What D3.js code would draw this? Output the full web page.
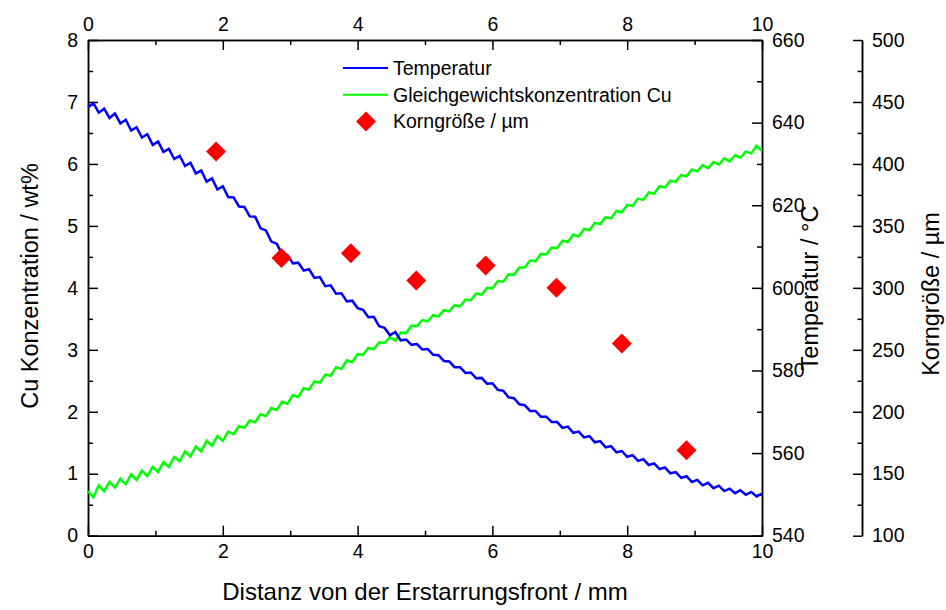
<!DOCTYPE html>
<html>
<head>
<meta charset="utf-8">
<script src="https://cdn.jsdelivr.net/npm/d3@7"></script>
<style>
  body { margin: 0; background: #fff; }
  text { font-family: "Liberation Sans", Arial, sans-serif; fill: #000; }
  .domain, .tick line { stroke: #000; stroke-width: 1.5px; }
</style>
</head>
<body>
<svg id="chart" width="946" height="610"></svg>
<script>
// sampling grid of the two simulated curves (mm)
var distanz = d3.range(126).map(function(i) { return +(i * 0.08).toFixed(2); });

// Temperatur / °C
var temperatur = [
  643.7, 644.7, 642.4, 643.4, 641.1, 642.2, 639.8, 640.7, 638.1, 638.9,
  636.4, 637.2, 634.6, 635.4, 632.9, 633.7, 631.2, 632.0, 629.5, 630.3,
  627.7, 628.4, 625.7, 626.5, 623.8, 624.6, 622.0, 621.9, 619.7, 619.6,
  617.3, 617.2, 614.4, 613.9, 611.2, 610.7, 608.1, 607.9, 605.9, 606.1,
  604.2, 604.5, 602.4, 602.6, 600.4, 600.6, 598.6, 598.7, 596.7, 596.9,
  595.1, 594.7, 592.9, 593.0, 590.7, 590.3, 588.5, 589.3, 587.3, 587.5,
  586.2, 586.4, 585.1, 585.2, 583.8, 583.7, 582.3, 582.2, 580.8, 580.8,
  579.4, 579.5, 578.1, 578.2, 576.8, 576.9, 575.3, 575.1, 573.5, 573.3,
  571.8, 571.6, 570.2, 570.2, 568.8, 568.8, 567.5, 567.5, 566.1, 566.4,
  564.9, 565.2, 563.8, 564.1, 562.6, 562.9, 561.4, 561.7, 560.2, 560.5,
  559.1, 559.5, 558.1, 558.5, 557.1, 557.5, 556.1, 556.5, 555.1, 555.4,
  554.0, 554.4, 553.0, 553.5, 552.2, 552.8, 551.5, 552.1, 550.8, 551.4,
  550.3, 551.0, 549.9, 550.6, 549.5, 550.2
];

// Gleichgewichtskonzentration Cu / wt%
var konzentration = [
  0.72, 0.62, 0.81, 0.72, 0.87, 0.78, 0.92, 0.83, 0.99, 0.90,
  1.05, 0.96, 1.11, 1.03, 1.19, 1.11, 1.27, 1.20, 1.36, 1.28,
  1.44, 1.36, 1.53, 1.45, 1.61, 1.53, 1.68, 1.64, 1.77, 1.74,
  1.86, 1.83, 1.96, 1.93, 2.06, 2.03, 2.16, 2.13, 2.27, 2.24,
  2.38, 2.36, 2.49, 2.47, 2.60, 2.58, 2.72, 2.69, 2.83, 2.80,
  2.93, 2.92, 3.03, 3.01, 3.12, 3.11, 3.20, 3.15, 3.28, 3.27,
  3.39, 3.38, 3.48, 3.46, 3.56, 3.54, 3.64, 3.62, 3.72, 3.70,
  3.81, 3.80, 3.91, 3.89, 4.00, 3.99, 4.11, 4.10, 4.22, 4.21,
  4.33, 4.33, 4.44, 4.43, 4.55, 4.54, 4.65, 4.64, 4.76, 4.74,
  4.86, 4.83, 4.95, 4.93, 5.05, 5.03, 5.14, 5.12, 5.24, 5.22,
  5.34, 5.32, 5.44, 5.42, 5.54, 5.52, 5.64, 5.62, 5.73, 5.71,
  5.82, 5.80, 5.91, 5.88, 5.98, 5.93, 6.03, 5.99, 6.09, 6.04,
  6.14, 6.10, 6.20, 6.17, 6.29, 6.21
];

// Korngröße / µm
var kornDistanz = [1.9, 2.87, 3.9, 4.87, 5.9, 6.95, 7.92, 8.88];
var korngroesse = [410, 324, 328, 306, 318, 300, 255, 169];

var legendLabels = ["Temperatur", "Gleichgewichtskonzentration Cu", "Korngröße / µm"];

var svg = d3.select("#chart");
var plotLeft = 88, plotRight = 762, plotTop = 40, plotBottom = 535.7, farRight = 862;

var x = d3.scaleLinear().domain([0, 10]).range([plotLeft, plotRight]);
var yCu = d3.scaleLinear().domain([0, 8]).range([plotBottom, plotTop]);
var yT = d3.scaleLinear().domain([540, 660]).range([plotBottom, plotTop]);
var yK = d3.scaleLinear().domain([100, 500]).range([plotBottom, plotTop]);

function style(g) {
  g.attr("font-family", null).attr("font-size", null);
  g.selectAll("text").attr("font-size", "19.5px").attr("fill", "#000");
}

// minor ticks first, then major with labels
function addAxis(axisFn, scale, major, minor, tx, ty, size, pad) {
  svg.append("g").attr("transform", "translate(" + tx + "," + ty + ")")
    .call(axisFn(scale).tickValues(minor).tickSize(size / 2).tickFormat("").tickSizeOuter(0));
  svg.append("g").attr("transform", "translate(" + tx + "," + ty + ")")
    .call(axisFn(scale).tickValues(major).tickSize(size).tickPadding(pad).tickSizeOuter(0)
      .tickFormat(d3.format("d")))
    .call(style);
}

addAxis(d3.axisBottom, x, d3.range(0, 11, 2), d3.range(1, 10, 2), 0, plotBottom, -10, 8);
addAxis(d3.axisTop, x, d3.range(0, 11, 2), d3.range(1, 10, 2), 0, plotTop, -10, 9);
addAxis(d3.axisLeft, yCu, d3.range(0, 9, 1), d3.range(0.5, 8, 1), plotLeft, 0, -10, 10);
addAxis(d3.axisRight, yT, d3.range(540, 661, 20), d3.range(550, 660, 20), plotRight, 0, -10, 10);
addAxis(d3.axisRight, yK, d3.range(100, 501, 50), d3.range(125, 500, 50), farRight, 0, -9, 10);

// curves
var lineT = d3.line().x(function(d, i) { return x(distanz[i]); }).y(function(d) { return yT(d); });
var lineCu = d3.line().x(function(d, i) { return x(distanz[i]); }).y(function(d) { return yCu(d); });

svg.append("path").datum(konzentration).attr("d", lineCu)
  .attr("fill", "none").attr("stroke", "#00ff00").attr("stroke-width", 2.5);
svg.append("path").datum(temperatur).attr("d", lineT)
  .attr("fill", "none").attr("stroke", "#0000ff").attr("stroke-width", 2.5);

var diamond = d3.symbol().type(d3.symbolSquare).size(200);
svg.selectAll(".korn").data(korngroesse).enter().append("path")
  .attr("class", "korn")
  .attr("d", diamond)
  .attr("transform", function(d, i) { return "translate(" + x(kornDistanz[i]) + "," + yK(d) + ") rotate(45)"; })
  .attr("fill", "#ff0000");

// legend
var lg = svg.append("g").attr("transform", "translate(343,68)");
var colors = ["#0000ff", "#00ff00", "#ff0000"];
legendLabels.forEach(function(t, i) {
  var yy = i * 26.7;
  if (i < 2) {
    lg.append("line").attr("x1", 0).attr("x2", 45).attr("y1", yy).attr("y2", yy)
      .attr("stroke", colors[i]).attr("stroke-width", 2);
  } else {
    lg.append("path").attr("d", diamond).attr("fill", colors[i])
      .attr("transform", "translate(23," + yy + ") rotate(45)");
  }
  lg.append("text").attr("x", 50).attr("y", yy).attr("dy", "0.35em")
    .attr("font-size", "19.5px").text(t);
});

// axis titles
svg.append("text").attr("x", 425).attr("y", 600)
  .attr("text-anchor", "middle").attr("font-size", "24px")
  .text("Distanz von der Erstarrungsfront / mm");
svg.append("text").attr("transform", "translate(38,286) rotate(-90)")
  .attr("text-anchor", "middle").attr("font-size", "23.5px")
  .text("Cu Konzentration / wt%");
svg.append("text").attr("transform", "translate(818,288) rotate(-90)")
  .attr("text-anchor", "middle").attr("font-size", "23.5px")
  .text("Temperatur / °C");
svg.append("text").attr("transform", "translate(939,294) rotate(-90)")
  .attr("text-anchor", "middle").attr("font-size", "23.5px")
  .text("Korngröße / µm");
</script>
</body>
</html>
